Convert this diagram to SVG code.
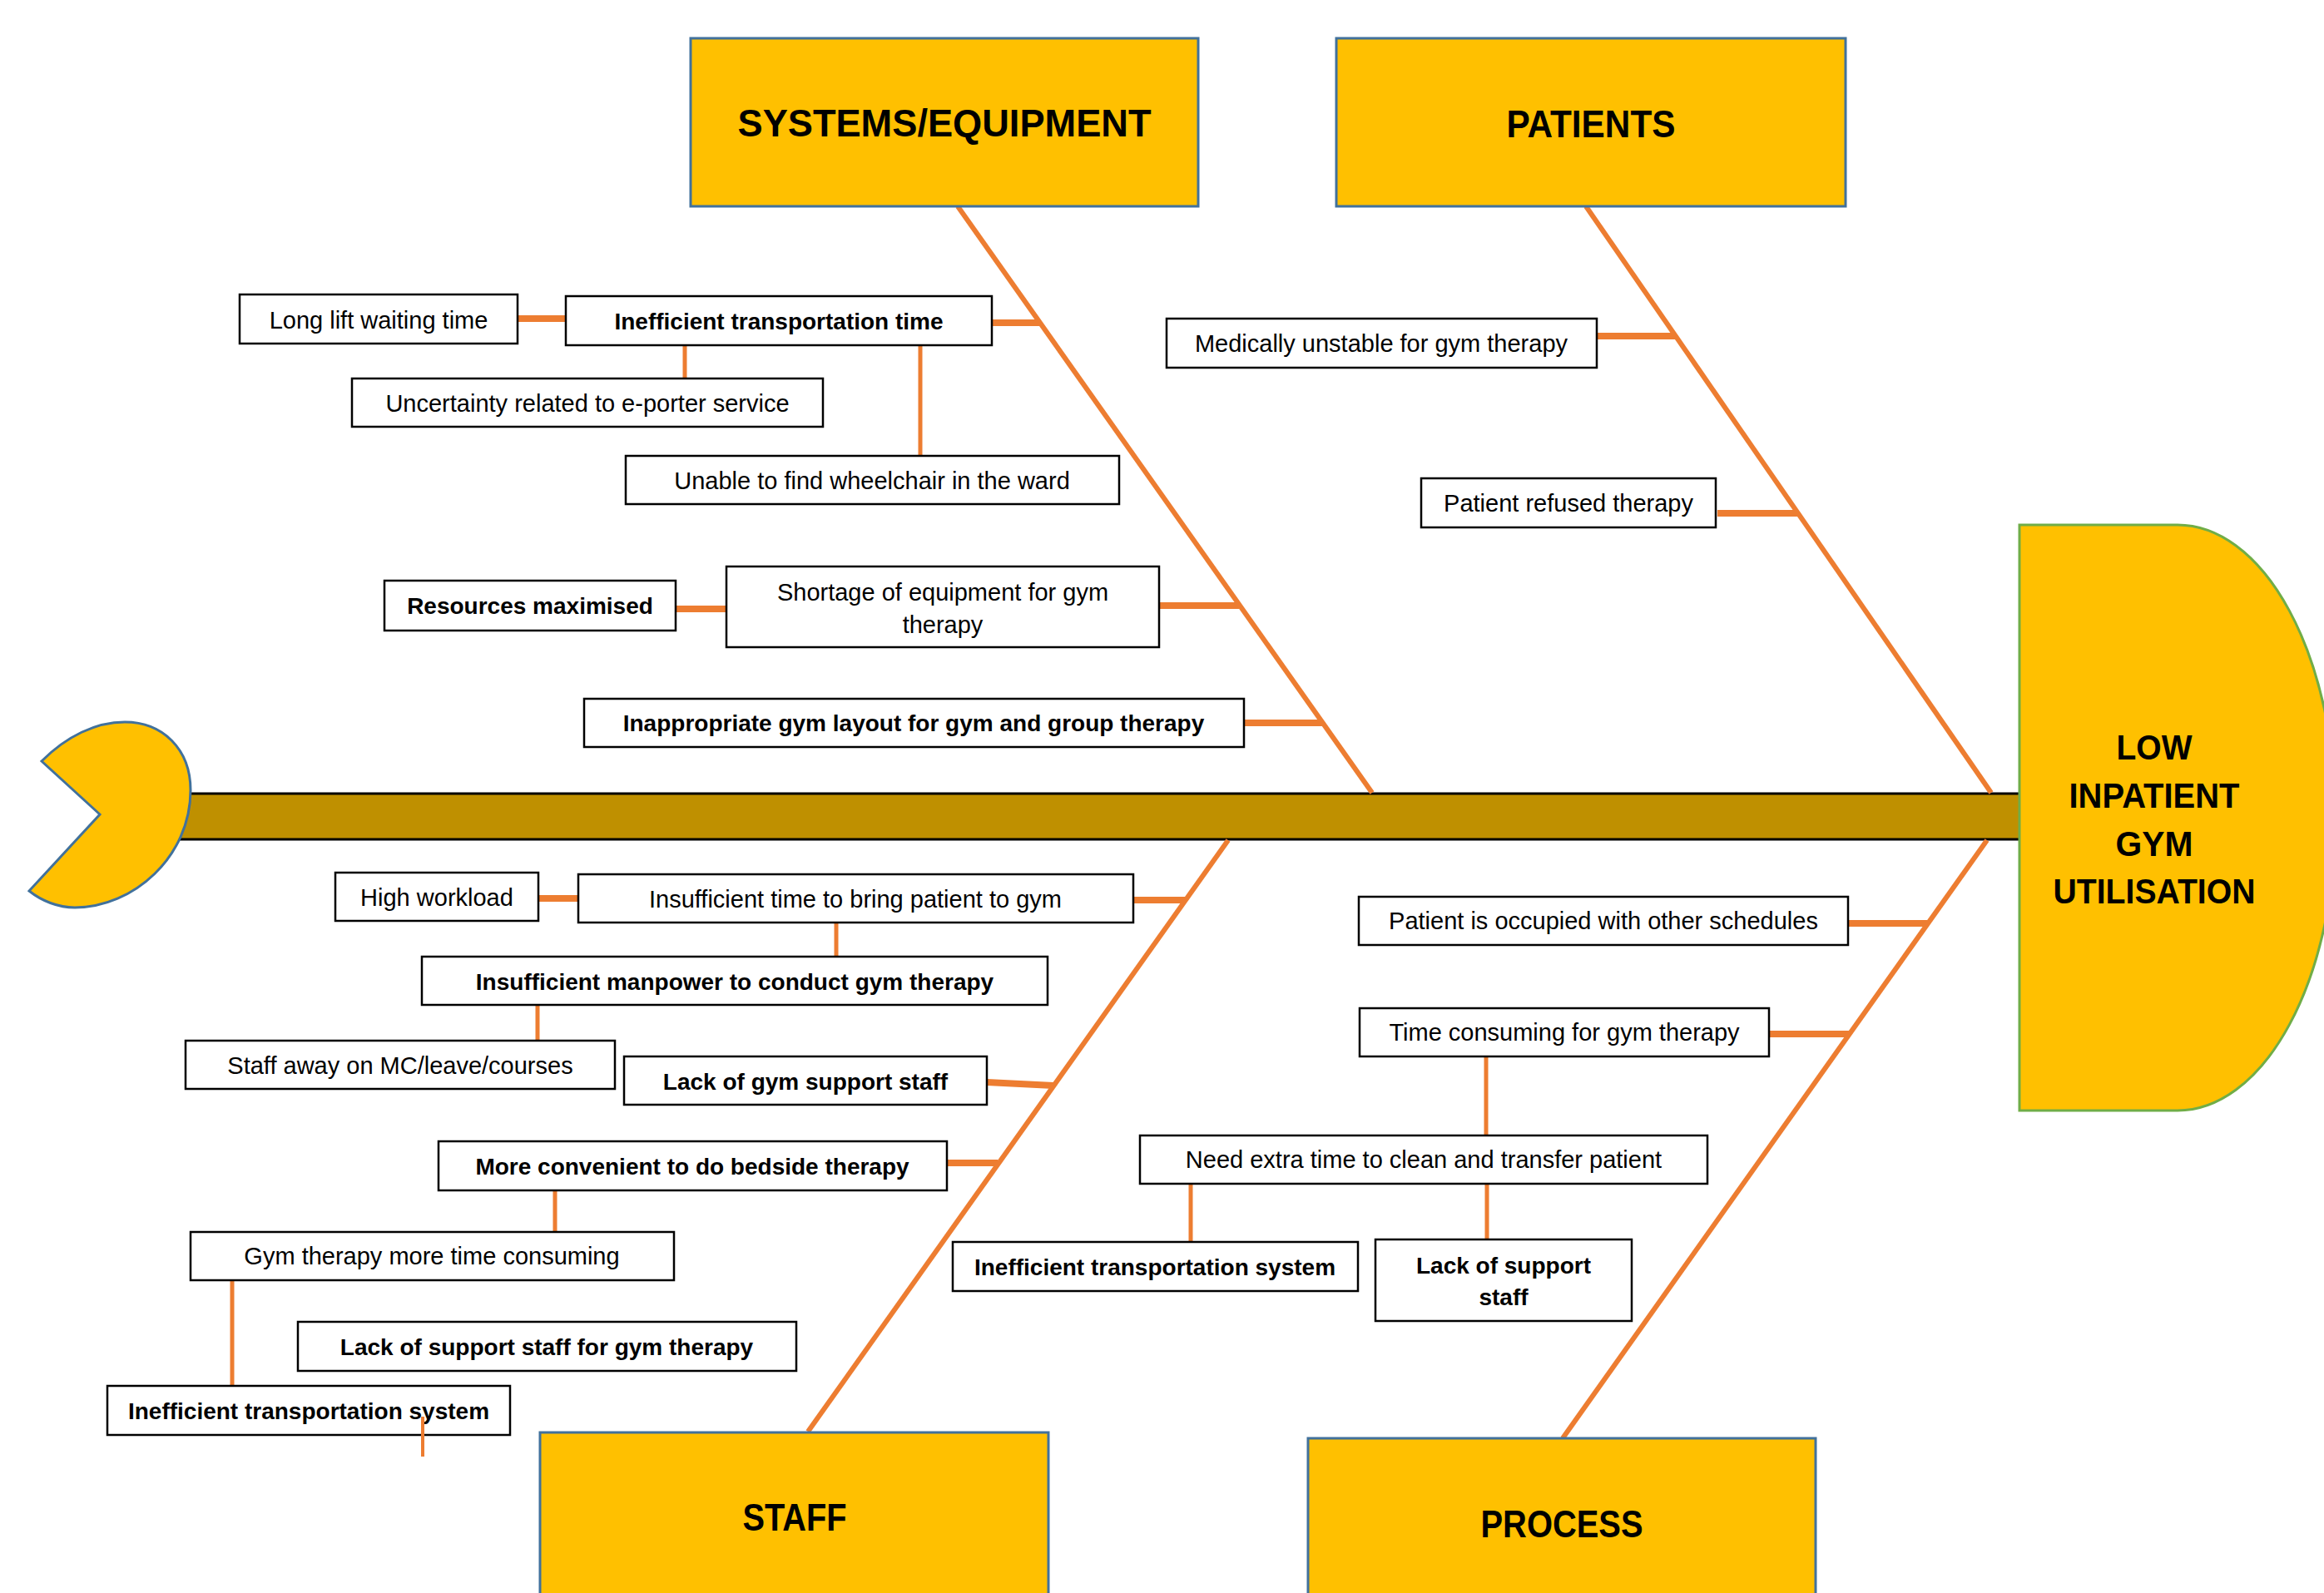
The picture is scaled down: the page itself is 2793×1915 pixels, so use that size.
<svg xmlns="http://www.w3.org/2000/svg" width="2793" height="1915" viewBox="0 0 2793 1915">
<style>
.cat{fill:#FFC000;stroke:#41719C;stroke-width:3}
.catt{font-family:"Liberation Sans",Arial,sans-serif;font-weight:bold;font-size:46px;fill:#000;text-anchor:middle}
.box{fill:#fff;stroke:#000;stroke-width:2.5}
.t{font-family:"Liberation Sans",Arial,sans-serif;font-size:29px;fill:#000;text-anchor:middle}
.b{font-family:"Liberation Sans",Arial,sans-serif;font-size:28px;font-weight:bold;fill:#000;text-anchor:middle}
.bone{stroke:#ED7D31;stroke-width:6;fill:none}
.h{stroke:#ED7D31;stroke-width:8;fill:none}
.v{stroke:#ED7D31;stroke-width:5;fill:none}
.headt{font-family:"Liberation Sans",Arial,sans-serif;font-weight:bold;font-size:42px;fill:#000;text-anchor:middle}
</style>
<rect width="2793" height="1915" fill="#fff"/>
<g id="spine">
<rect x="150" y="954" width="2278" height="55" fill="#BF9000"/>
<line x1="150" y1="954" x2="2428" y2="954" stroke="#000" stroke-width="3"/>
<line x1="150" y1="1009" x2="2428" y2="1009" stroke="#000" stroke-width="3"/>
</g>
<g id="connectors">
<line class="bone" x1="1151" y1="248" x2="1649" y2="953"/>
<line class="bone" x1="1906" y1="248" x2="2393" y2="953"/>
<line class="bone" x1="971" y1="1721" x2="1476" y2="1010"/>
<line class="bone" x1="1878" y1="1729" x2="2388" y2="1010"/>
<line class="h" x1="622" y1="383" x2="680" y2="383"/>
<line class="h" x1="1192" y1="388" x2="1250" y2="388"/>
<line class="v" x1="823" y1="415" x2="823" y2="455"/>
<line class="v" x1="1106" y1="415" x2="1106" y2="548"/>
<line class="h" x1="812" y1="732" x2="873" y2="732"/>
<line class="h" x1="1393" y1="728" x2="1489" y2="728"/>
<line class="h" x1="1495" y1="869" x2="1590" y2="869"/>
<line class="h" x1="1919" y1="404" x2="2013" y2="404"/>
<line class="h" x1="2064" y1="617" x2="2161" y2="617"/>
<line class="h" x1="647" y1="1080" x2="695" y2="1080"/>
<line class="h" x1="1362" y1="1082" x2="1425" y2="1082"/>
<line class="v" x1="1005" y1="1109" x2="1005" y2="1150"/>
<line class="v" x1="646" y1="1208" x2="646" y2="1251"/>
<line class="h" x1="1186" y1="1301" x2="1266" y2="1305"/>
<line class="h" x1="1138" y1="1398" x2="1199" y2="1398"/>
<line class="v" x1="667" y1="1431" x2="667" y2="1481"/>
<line class="v" x1="279" y1="1539" x2="279" y2="1666"/>
<line class="h" x1="2221" y1="1110" x2="2316" y2="1110"/>
<line class="h" x1="2126" y1="1243" x2="2222" y2="1243"/>
<line class="v" x1="1786" y1="1270" x2="1786" y2="1365"/>
<line class="v" x1="1431" y1="1423" x2="1431" y2="1493"/>
<line class="v" x1="1787" y1="1423" x2="1787" y2="1490"/>
</g>
<g id="tail">
<path d="M50,915 C80,885 115,868 150,868 C195,868 229,900 229,950 C229,1030 160,1091 90,1091 C70,1091 50,1083 35,1071 L120,979 Z" fill="#FFC000" stroke="#41719C" stroke-width="3"/>
</g>
<g id="head">
<path d="M2427,631 H2617 A190,352 0 0 1 2617,1335 H2427 Z" fill="#FFC000" stroke="#70AD47" stroke-width="3"/>
<text class="headt" x="2589" y="913" textLength="91" lengthAdjust="spacingAndGlyphs">LOW</text>
<text class="headt" x="2589" y="971" textLength="205" lengthAdjust="spacingAndGlyphs">INPATIENT</text>
<text class="headt" x="2589" y="1029" textLength="93" lengthAdjust="spacingAndGlyphs">GYM</text>
<text class="headt" x="2589" y="1086" textLength="243" lengthAdjust="spacingAndGlyphs">UTILISATION</text>
</g>
<g id="cat-systems">
<rect class="cat" x="830" y="46" width="610" height="202"/>
<text class="catt" x="1135" y="164" textLength="497" lengthAdjust="spacingAndGlyphs">SYSTEMS/EQUIPMENT</text>
</g>
<g id="cat-patients">
<rect class="cat" x="1606" y="46" width="612" height="202"/>
<text class="catt" x="1912" y="165" textLength="203" lengthAdjust="spacingAndGlyphs">PATIENTS</text>
</g>
<g id="cat-staff">
<rect class="cat" x="649" y="1722" width="611" height="210"/>
<text class="catt" x="955" y="1840" textLength="125" lengthAdjust="spacingAndGlyphs">STAFF</text>
</g>
<g id="cat-process">
<rect class="cat" x="1572" y="1729" width="610" height="210"/>
<text class="catt" x="1877" y="1848" textLength="195" lengthAdjust="spacingAndGlyphs">PROCESS</text>
</g>
<g id="n-longlift"><rect class="box" x="288" y="354" width="334" height="59"/><text class="t" x="455" y="395">Long lift waiting time</text></g>
<g id="n-ineff-time"><rect class="box" x="680" y="356" width="512" height="59"/><text class="b" x="936" y="396">Inefficient transportation time</text></g>
<g id="n-uncertainty"><rect class="box" x="423" y="455" width="566" height="58"/><text class="t" x="706" y="495">Uncertainty related to e-porter service</text></g>
<g id="n-wheelchair"><rect class="box" x="752" y="548" width="593" height="58"/><text class="t" x="1048" y="588">Unable to find wheelchair in the ward</text></g>
<g id="n-shortage"><rect class="box" x="873" y="681" width="520" height="97"/><text class="t" x="1133" y="722">Shortage of equipment for gym</text><text class="t" x="1133" y="761">therapy</text></g>
<g id="n-resources"><rect class="box" x="462" y="698" width="350" height="60"/><text class="b" x="637" y="738">Resources maximised</text></g>
<g id="n-layout"><rect class="box" x="702" y="840" width="793" height="58"/><text class="b" x="1098" y="879">Inappropriate gym layout for gym and group therapy</text></g>
<g id="n-medically"><rect class="box" x="1402" y="383" width="517" height="59"/><text class="t" x="1660" y="423">Medically unstable for gym therapy</text></g>
<g id="n-refused"><rect class="box" x="1708" y="575" width="354" height="59"/><text class="t" x="1885" y="615">Patient refused therapy</text></g>
<g id="n-workload"><rect class="box" x="403" y="1049" width="244" height="58"/><text class="t" x="525" y="1089">High workload</text></g>
<g id="n-insuff-time"><rect class="box" x="695" y="1051" width="667" height="58"/><text class="t" x="1028" y="1091">Insufficient time to bring patient to gym</text></g>
<g id="n-manpower"><rect class="box" x="507" y="1150" width="752" height="58"/><text class="b" x="883" y="1190">Insufficient manpower to conduct gym therapy</text></g>
<g id="n-staffaway"><rect class="box" x="223" y="1251" width="516" height="58"/><text class="t" x="481" y="1291">Staff away on MC/leave/courses</text></g>
<g id="n-gymsupport"><rect class="box" x="750" y="1270" width="436" height="58"/><text class="b" x="968" y="1310">Lack of gym support staff</text></g>
<g id="n-bedside"><rect class="box" x="527" y="1372" width="611" height="59"/><text class="b" x="832" y="1412">More convenient to do bedside therapy</text></g>
<g id="n-gymtime"><rect class="box" x="229" y="1481" width="581" height="58"/><text class="t" x="519" y="1520">Gym therapy more time consuming</text></g>
<g id="n-supportgym"><rect class="box" x="358" y="1589" width="599" height="59"/><text class="b" x="657" y="1629">Lack of support staff for gym therapy</text></g>
<g id="n-ineff-sys-staff"><rect class="box" x="129" y="1666" width="484" height="59"/><text class="b" x="371" y="1706">Inefficient transportation system</text><line x1="508" y1="1703" x2="508" y2="1751" stroke="#ED7D31" stroke-width="4"/></g>
<g id="n-occupied"><rect class="box" x="1633" y="1078" width="588" height="58"/><text class="t" x="1927" y="1117">Patient is occupied with other schedules</text></g>
<g id="n-timeconsuming"><rect class="box" x="1634" y="1212" width="492" height="58"/><text class="t" x="1880" y="1251">Time consuming for gym therapy</text></g>
<g id="n-extratime"><rect class="box" x="1370" y="1365" width="682" height="58"/><text class="t" x="1711" y="1404">Need extra time to clean and transfer patient</text></g>
<g id="n-ineff-sys-proc"><rect class="box" x="1145" y="1493" width="487" height="59"/><text class="b" x="1388" y="1533">Inefficient transportation system</text></g>
<g id="n-supportstaff"><rect class="box" x="1653" y="1490" width="308" height="98"/><text class="b" x="1807" y="1531">Lack of support</text><text class="b" x="1807" y="1569">staff</text></g>
</svg>
